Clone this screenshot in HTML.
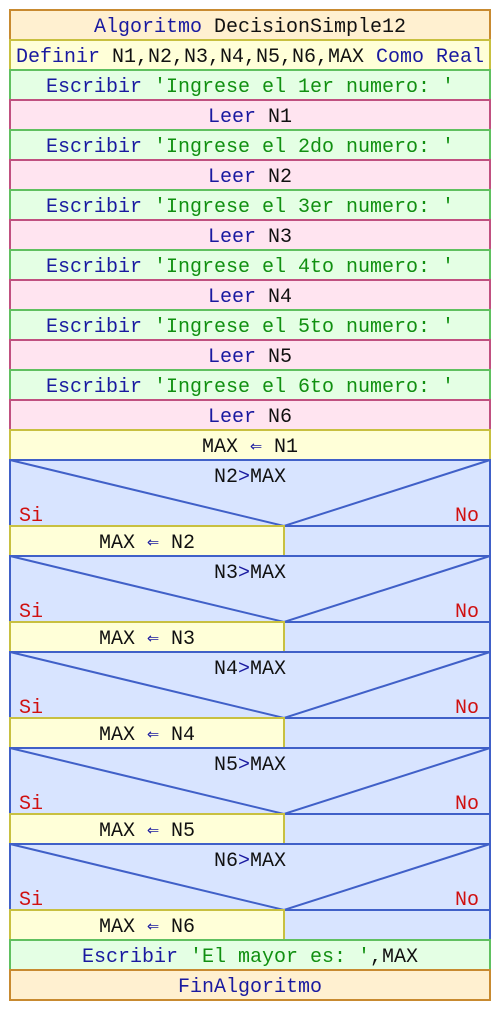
<!DOCTYPE html>
<html><head><meta charset="utf-8"><style>
html,body{margin:0;padding:0;background:#fff;width:500px;height:1010px;overflow:hidden}
svg text{font-family:"Liberation Mono","DejaVu Sans Mono",monospace;font-size:20px}
.k{fill:#1a1aa0}.s{fill:#119011}.i{fill:#111}.r{fill:#d01010}
.a{fill:#1a1aa0;font-family:"DejaVu Sans Mono",monospace}
</style></head><body>
<svg width="500" height="1010" xmlns="http://www.w3.org/2000/svg">
<g stroke-width="2">
<rect x="10" y="10" width="480" height="30" fill="#fff0d0" stroke="#c88a30"/>
<rect x="10" y="40" width="480" height="30" fill="#ffffd8" stroke="#c8c040"/>
<rect x="10" y="70" width="480" height="30" fill="#e4ffe4" stroke="#60c060"/>
<rect x="10" y="100" width="480" height="30" fill="#ffe4f0" stroke="#c05080"/>
<rect x="10" y="130" width="480" height="30" fill="#e4ffe4" stroke="#60c060"/>
<rect x="10" y="160" width="480" height="30" fill="#ffe4f0" stroke="#c05080"/>
<rect x="10" y="190" width="480" height="30" fill="#e4ffe4" stroke="#60c060"/>
<rect x="10" y="220" width="480" height="30" fill="#ffe4f0" stroke="#c05080"/>
<rect x="10" y="250" width="480" height="30" fill="#e4ffe4" stroke="#60c060"/>
<rect x="10" y="280" width="480" height="30" fill="#ffe4f0" stroke="#c05080"/>
<rect x="10" y="310" width="480" height="30" fill="#e4ffe4" stroke="#60c060"/>
<rect x="10" y="340" width="480" height="30" fill="#ffe4f0" stroke="#c05080"/>
<rect x="10" y="370" width="480" height="30" fill="#e4ffe4" stroke="#60c060"/>
<rect x="10" y="400" width="480" height="30" fill="#ffe4f0" stroke="#c05080"/>
<rect x="10" y="430" width="480" height="30" fill="#ffffd8" stroke="#c8c040"/>
</g>
<g id="d" stroke-width="2">
<rect x="10" y="460" width="480" height="96" fill="#d8e4ff" stroke="#4060c8"/>
<polyline points="10,460 284,526 490,460" fill="none" stroke="#4060c8"/>
<line x1="10" y1="526" x2="490" y2="526" stroke="#4060c8"/>
<rect x="10" y="526" width="274" height="30" fill="#ffffd8" stroke="#c8c040"/>
</g>
<use href="#d" y="96"/><use href="#d" y="192"/><use href="#d" y="288"/><use href="#d" y="384"/>
<g stroke-width="2">
<rect x="10" y="940" width="480" height="30" fill="#e4ffe4" stroke="#60c060"/>
<rect x="10" y="970" width="480" height="30" fill="#fff0d0" stroke="#c88a30"/>
</g>
<g text-anchor="middle">
<text x="250" y="32"><tspan class="k">Algoritmo</tspan><tspan class="i"> DecisionSimple12</tspan></text>
<text x="250" y="62"><tspan class="k">Definir</tspan><tspan class="i"> N1,N2,N3,N4,N5,N6,MAX </tspan><tspan class="k">Como Real</tspan></text>
<text x="250" y="92"><tspan class="k">Escribir </tspan><tspan class="s">'Ingrese el 1er numero: '</tspan></text>
<text x="250" y="122"><tspan class="k">Leer</tspan><tspan class="i"> N1</tspan></text>
<text x="250" y="152"><tspan class="k">Escribir </tspan><tspan class="s">'Ingrese el 2do numero: '</tspan></text>
<text x="250" y="182"><tspan class="k">Leer</tspan><tspan class="i"> N2</tspan></text>
<text x="250" y="212"><tspan class="k">Escribir </tspan><tspan class="s">'Ingrese el 3er numero: '</tspan></text>
<text x="250" y="242"><tspan class="k">Leer</tspan><tspan class="i"> N3</tspan></text>
<text x="250" y="272"><tspan class="k">Escribir </tspan><tspan class="s">'Ingrese el 4to numero: '</tspan></text>
<text x="250" y="302"><tspan class="k">Leer</tspan><tspan class="i"> N4</tspan></text>
<text x="250" y="332"><tspan class="k">Escribir </tspan><tspan class="s">'Ingrese el 5to numero: '</tspan></text>
<text x="250" y="362"><tspan class="k">Leer</tspan><tspan class="i"> N5</tspan></text>
<text x="250" y="392"><tspan class="k">Escribir </tspan><tspan class="s">'Ingrese el 6to numero: '</tspan></text>
<text x="250" y="422"><tspan class="k">Leer</tspan><tspan class="i"> N6</tspan></text>
<text x="250" y="452"><tspan class="i">MAX </tspan><tspan class="a">⇐</tspan><tspan class="i"> N1</tspan></text>
<text x="250" y="482"><tspan class="i">N2</tspan><tspan class="k">&gt;</tspan><tspan class="i">MAX</tspan></text>
<text x="147" y="548"><tspan class="i">MAX </tspan><tspan class="a">⇐</tspan><tspan class="i"> N2</tspan></text>
<text x="250" y="578"><tspan class="i">N3</tspan><tspan class="k">&gt;</tspan><tspan class="i">MAX</tspan></text>
<text x="147" y="644"><tspan class="i">MAX </tspan><tspan class="a">⇐</tspan><tspan class="i"> N3</tspan></text>
<text x="250" y="674"><tspan class="i">N4</tspan><tspan class="k">&gt;</tspan><tspan class="i">MAX</tspan></text>
<text x="147" y="740"><tspan class="i">MAX </tspan><tspan class="a">⇐</tspan><tspan class="i"> N4</tspan></text>
<text x="250" y="770"><tspan class="i">N5</tspan><tspan class="k">&gt;</tspan><tspan class="i">MAX</tspan></text>
<text x="147" y="836"><tspan class="i">MAX </tspan><tspan class="a">⇐</tspan><tspan class="i"> N5</tspan></text>
<text x="250" y="866"><tspan class="i">N6</tspan><tspan class="k">&gt;</tspan><tspan class="i">MAX</tspan></text>
<text x="147" y="932"><tspan class="i">MAX </tspan><tspan class="a">⇐</tspan><tspan class="i"> N6</tspan></text>
<text x="250" y="962"><tspan class="k">Escribir </tspan><tspan class="s">'El mayor es: '</tspan><tspan class="i">,MAX</tspan></text>
<text x="250" y="992" class="k">FinAlgoritmo</text>
</g>
<g class="r">
<text x="19" y="521">Si</text><text x="479" y="521" text-anchor="end">No</text>
<text x="19" y="617">Si</text><text x="479" y="617" text-anchor="end">No</text>
<text x="19" y="713">Si</text><text x="479" y="713" text-anchor="end">No</text>
<text x="19" y="809">Si</text><text x="479" y="809" text-anchor="end">No</text>
<text x="19" y="905">Si</text><text x="479" y="905" text-anchor="end">No</text>
</g>
</svg>
</body></html>
